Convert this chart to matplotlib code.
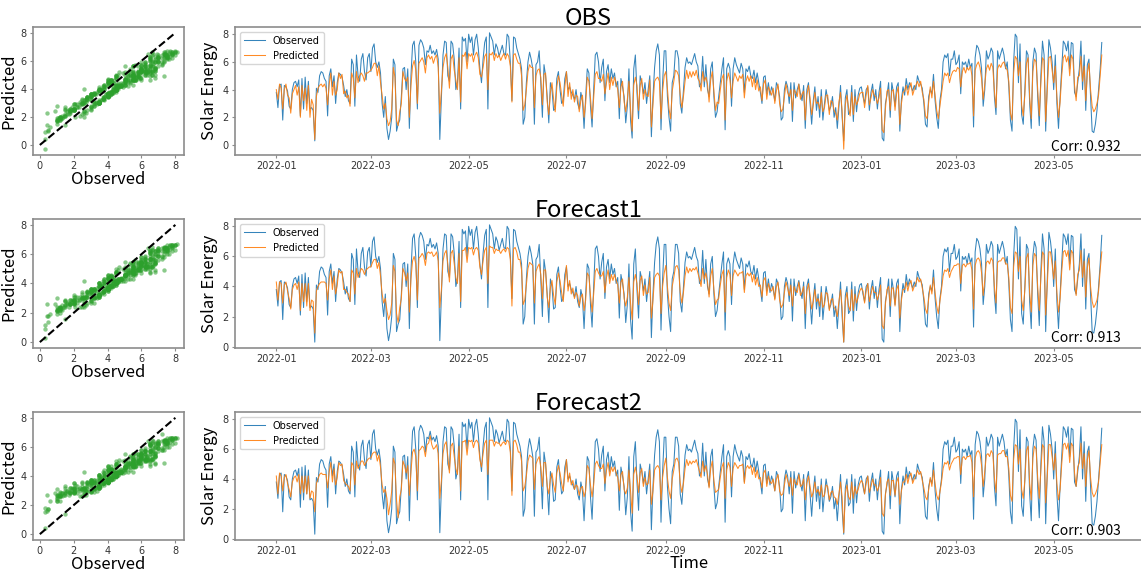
import numpy as np
import pandas as pd
import matplotlib
matplotlib.use('Agg')
import matplotlib.pyplot as plt
import matplotlib.dates as mdates

# daily solar energy, 2022-01-01 .. 2023-05-31 (one row = one month)
observed = [
    3.8, 2.7, 4.3, 4.4, 1.8, 4.3, 4.2, 3.9, 2.8, 2.6, 4.0, 4.5, 4.6, 4.2, 4.7, 2.1, 4.8, 2.6, 4.9, 3.0, 4.6, 2.6, 2.7, 2.5, 0.3, 4.1, 3.8, 5.0, 5.3, 5.2, 4.8,
    4.6, 2.1, 5.0, 5.5, 4.2, 5.0, 3.0, 4.5, 5.2, 5.1, 4.9, 4.3, 3.5, 4.0, 3.2, 3.0, 6.2, 5.8, 2.8, 6.5, 5.0, 4.6, 6.2, 6.6, 5.3, 4.7, 6.3, 6.6,
    5.3, 7.0, 7.3, 6.0, 5.6, 6.0, 5.2, 3.0, 2.0, 3.5, 1.2, 0.4, 1.0, 2.0, 6.2, 5.8, 1.0, 1.5, 1.8, 3.5, 5.5, 5.6, 4.0, 5.5, 1.2, 5.0, 7.2, 7.5, 6.0, 2.6, 7.2,
    7.6, 7.4, 7.0, 5.8, 6.8, 6.7, 7.2, 6.6, 6.8, 6.5, 6.9, 6.2, 0.4, 3.5, 6.5, 7.5, 7.4, 5.0, 4.6, 7.5, 7.3, 6.2, 4.0, 4.5, 7.0, 2.6, 7.8, 7.5, 7.7, 6.0,
    8.0, 7.4, 7.8, 6.5, 7.6, 8.0, 7.0, 5.5, 4.5, 6.2, 7.4, 7.8, 2.6, 8.1, 7.8, 7.5, 6.5, 7.3, 7.0, 6.4, 6.8, 7.2, 6.6, 6.5, 8.0, 7.8, 6.0, 3.2, 7.8, 7.7, 7.0,
    6.6, 6.2, 5.5, 1.5, 2.0, 4.5, 6.0, 6.7, 6.2, 5.5, 1.5, 5.8, 6.0, 6.8, 4.5, 2.0, 5.8, 5.0, 3.5, 1.6, 4.5, 4.0, 2.5, 2.6, 4.8, 5.3, 4.0, 3.0, 3.2, 4.8,
    5.3, 4.0, 4.2, 3.8, 3.6, 3.3, 4.0, 3.0, 2.6, 3.8, 3.2, 1.2, 3.5, 5.5, 5.2, 2.8, 1.3, 4.0, 6.5, 6.7, 6.0, 4.5, 5.6, 6.2, 3.2, 5.3, 5.8, 4.5, 5.5, 4.8, 5.2,
    4.2, 4.6, 1.9, 4.8, 4.2, 3.5, 1.6, 2.8, 5.5, 1.8, 0.5, 5.5, 6.5, 3.8, 1.9, 5.0, 4.5, 3.7, 4.5, 3.0, 4.0, 5.0, 0.6, 3.5, 5.6, 6.8, 7.3, 6.5, 1.1, 4.5, 6.8,
    6.8, 3.5, 2.0, 1.0, 4.5, 5.0, 6.8, 6.8, 6.2, 3.0, 2.3, 4.0, 5.6, 6.3, 5.9, 6.0, 5.8, 6.2, 6.6, 6.0, 5.7, 4.2, 4.5, 6.4, 4.2, 5.8, 4.0, 3.5, 5.5, 6.0,
    3.5, 2.0, 2.4, 3.5, 4.5, 5.5, 6.3, 1.1, 5.5, 5.9, 5.5, 2.8, 5.5, 6.3, 5.8, 5.5, 5.2, 5.9, 5.5, 3.8, 5.5, 5.3, 5.7, 5.0, 4.8, 5.4, 4.5, 5.2, 4.5, 3.8, 3.0,
    4.9, 5.0, 3.7, 4.5, 3.6, 4.2, 3.8, 3.2, 4.5, 4.2, 3.5, 1.8, 2.0, 4.0, 4.6, 4.2, 3.0, 4.5, 1.7, 4.5, 3.4, 4.0, 4.4, 3.7, 3.2, 4.3, 1.2, 4.0, 4.5, 3.0,
    1.5, 3.2, 4.2, 2.5, 3.5, 2.0, 4.0, 1.8, 3.0, 4.0, 3.3, 2.5, 2.8, 3.5, 2.0, 2.7, 1.2, 2.7, 4.3, 2.0, 0.3, 3.4, 4.0, 2.2, 2.4, 4.3, 1.7, 4.0, 2.4, 3.6, 4.1,
    4.2, 3.5, 3.0, 4.0, 4.2, 2.5, 3.8, 4.4, 3.2, 4.0, 2.6, 3.8, 4.6, 0.5, 0.3, 3.0, 3.6, 4.5, 2.0, 4.5, 3.8, 2.8, 4.2, 4.5, 1.0, 3.3, 4.2, 3.6, 4.8, 4.0, 4.5,
    4.2, 3.9, 4.3, 4.0, 5.0, 4.6, 4.4, 4.1, 3.0, 1.5, 1.3, 3.5, 4.0, 3.7, 5.1, 3.2, 2.0, 1.2, 3.2, 4.0, 6.0, 6.5, 6.3, 6.6, 5.0, 6.2, 6.2, 6.8,
    5.8, 6.0, 6.5, 3.7, 6.0, 5.8, 6.0, 5.5, 6.2, 5.6, 5.9, 1.3, 6.3, 7.2, 7.0, 6.5, 5.5, 2.8, 4.0, 6.8, 6.2, 6.5, 7.0, 6.7, 3.5, 2.2, 6.8, 6.2, 6.6, 7.0, 6.5,
    5.5, 6.0, 4.2, 1.8, 1.0, 6.0, 8.0, 7.8, 4.5, 7.3, 2.2, 1.5, 4.0, 6.8, 6.5, 3.0, 1.2, 6.0, 7.0, 6.6, 3.5, 1.4, 5.0, 7.5, 6.5, 1.0, 4.5, 7.6, 7.0, 6.0,
    4.0, 6.5, 3.0, 1.2, 3.5, 5.5, 7.5, 7.3, 6.8, 7.5, 5.5, 7.4, 7.3, 3.8, 3.5, 4.5, 5.5, 7.5, 4.0, 6.5, 2.5, 5.8, 6.2, 3.5, 1.0, 0.9, 1.5, 2.5, 4.0, 5.5, 7.4,
]

pred_obs = [
    4.0, 3.3, 4.4, 4.1, 2.6, 4.0, 4.4, 3.6, 3.4, 2.3, 3.7, 4.0, 4.3, 3.6, 4.2, 2.0, 4.3, 3.2, 4.1, 2.5, 4.3, 2.0, 3.3, 2.9, 0.4, 3.5, 4.1, 4.3, 4.4, 4.2, 4.4,
    4.1, 2.9, 4.4, 5.2, 3.6, 4.6, 3.6, 4.0, 5.2, 4.8, 5.1, 3.7, 3.9, 3.4, 3.6, 2.8, 5.2, 4.8, 3.4, 5.3, 4.5, 5.0, 5.2, 5.0, 4.6, 5.2, 5.2, 5.3,
    5.4, 5.6, 5.9, 5.9, 5.0, 5.7, 4.5, 3.6, 2.6, 3.0, 1.9, 1.4, 1.7, 2.6, 5.6, 4.9, 1.8, 1.4, 2.4, 3.0, 5.3, 4.8, 4.6, 4.9, 2.0, 4.3, 5.7, 6.1, 5.4, 3.0, 5.9,
    6.1, 6.3, 6.0, 5.2, 6.3, 6.5, 6.2, 6.4, 5.9, 6.3, 6.5, 5.6, 2.3, 3.9, 5.6, 6.3, 6.6, 5.6, 4.1, 6.2, 6.5, 5.4, 4.7, 4.0, 6.3, 3.1, 6.5, 6.4, 6.7, 5.5,
    6.6, 6.4, 6.6, 6.0, 6.5, 6.7, 6.3, 5.1, 4.9, 5.6, 6.4, 6.6, 4.0, 6.6, 6.5, 6.7, 6.1, 6.6, 6.3, 6.5, 6.1, 6.4, 6.6, 6.2, 6.6, 6.4, 5.7, 3.1, 6.5, 6.6, 6.2,
    5.9, 5.9, 5.0, 2.5, 2.9, 4.0, 5.3, 5.8, 5.6, 5.6, 2.7, 5.0, 5.4, 5.5, 4.9, 2.9, 5.1, 5.2, 3.1, 2.2, 3.8, 4.5, 3.3, 2.4, 4.2, 5.0, 4.5, 3.6, 2.8, 4.2,
    5.3, 3.5, 4.5, 3.3, 4.0, 3.1, 3.6, 3.5, 2.4, 3.2, 3.6, 2.0, 3.0, 4.9, 4.6, 3.4, 1.9, 3.4, 5.1, 5.3, 4.8, 4.8, 4.6, 5.1, 3.7, 4.5, 5.2, 4.0, 4.9, 4.3, 4.9,
    4.5, 4.0, 2.7, 4.2, 4.6, 3.1, 2.4, 3.3, 4.6, 2.6, 1.0, 4.3, 4.9, 4.3, 2.5, 4.3, 4.8, 3.3, 4.0, 3.6, 3.5, 4.7, 1.3, 3.0, 4.6, 4.8, 4.9, 4.6, 1.9, 3.9, 5.0,
    5.3, 4.1, 2.6, 1.9, 3.9, 4.6, 5.4, 5.3, 5.0, 3.6, 2.7, 3.5, 4.6, 5.4, 4.8, 5.3, 4.9, 5.3, 5.0, 5.4, 4.8, 4.6, 3.9, 5.3, 4.6, 4.9, 4.4, 3.1, 4.7, 5.3,
    3.9, 2.5, 3.1, 3.0, 4.0, 4.8, 5.1, 1.8, 4.6, 5.2, 4.7, 3.4, 4.6, 5.2, 4.9, 4.6, 5.0, 4.8, 5.1, 3.4, 4.6, 5.0, 4.6, 5.0, 4.2, 4.9, 4.0, 4.7, 3.9, 4.2, 3.2,
    4.4, 4.7, 3.3, 4.2, 3.9, 3.6, 4.1, 3.0, 3.9, 4.4, 3.0, 2.4, 2.6, 3.5, 4.4, 3.8, 3.5, 4.0, 2.5, 4.0, 3.8, 3.5, 4.4, 3.3, 3.7, 3.9, 1.8, 3.6, 4.3, 3.4,
    2.2, 2.9, 3.8, 3.0, 3.1, 2.6, 3.5, 2.4, 2.7, 3.6, 3.6, 2.2, 3.2, 3.1, 2.5, 2.3, 1.8, 3.1, 3.8, 2.5, -0.3, 2.9, 3.6, 2.7, 2.1, 3.8, 2.2, 3.5, 2.9, 3.2, 3.7,
    3.8, 3.8, 2.7, 3.6, 4.3, 2.9, 3.4, 4.0, 3.6, 3.5, 3.0, 3.4, 4.1, 1.1, 0.9, 2.6, 3.9, 4.0, 2.5, 3.9, 4.0, 2.5, 3.7, 4.2, 1.5, 3.0, 3.8, 3.9, 4.3, 3.6, 4.2,
    4.5, 3.6, 4.0, 4.3, 4.6, 4.2, 4.6, 3.8, 3.3, 2.1, 1.9, 3.1, 4.2, 3.4, 4.6, 3.6, 2.5, 1.9, 2.8, 3.7, 4.6, 5.2, 5.0, 5.2, 4.5, 5.0, 5.3, 5.4,
    5.3, 5.6, 5.5, 4.2, 5.3, 5.6, 5.2, 5.6, 5.4, 5.7, 5.0, 2.1, 5.4, 5.8, 6.0, 5.6, 4.8, 3.3, 4.4, 5.5, 5.8, 5.4, 5.9, 5.6, 3.9, 2.7, 5.5, 5.8, 5.6, 5.9, 6.0,
    5.6, 5.4, 4.6, 2.3, 1.8, 5.2, 6.4, 6.2, 5.0, 6.0, 2.9, 2.1, 3.6, 5.9, 6.3, 3.5, 1.9, 5.3, 6.2, 6.0, 4.0, 2.1, 4.5, 6.3, 6.1, 1.7, 4.0, 6.3, 6.4, 5.4,
    4.5, 5.7, 3.5, 2.0, 3.1, 5.0, 6.3, 6.5, 6.0, 6.4, 5.0, 6.5, 6.2, 4.3, 3.2, 4.9, 5.0, 6.4, 4.6, 5.7, 3.2, 5.2, 5.9, 4.0, 2.8, 2.4, 2.6, 3.0, 3.6, 5.0, 6.5,
]

pred_fc1 = [
    4.3, 3.1, 4.3, 4.2, 2.9, 4.1, 4.3, 3.7, 3.2, 2.5, 3.8, 4.1, 4.2, 3.8, 4.3, 2.4, 4.2, 3.0, 4.2, 2.7, 4.2, 2.4, 3.1, 3.0, 0.9, 3.7, 4.0, 4.2, 4.3, 4.3, 4.3,
    4.2, 3.1, 4.5, 5.1, 3.8, 4.7, 3.5, 4.1, 5.1, 4.9, 5.0, 3.8, 3.8, 3.6, 3.5, 3.0, 5.1, 4.9, 3.5, 5.2, 4.6, 4.9, 5.2, 5.1, 4.8, 5.1, 5.2, 5.3,
    5.3, 5.6, 5.8, 5.8, 5.2, 5.6, 4.7, 3.5, 2.9, 3.2, 2.4, 1.8, 2.1, 2.9, 5.4, 5.0, 2.2, 1.6, 2.6, 3.2, 5.2, 4.9, 4.4, 4.9, 2.3, 4.5, 5.7, 6.0, 5.5, 3.1, 5.9,
    6.0, 6.2, 6.0, 5.4, 6.2, 6.3, 6.2, 6.3, 6.0, 6.1, 6.3, 5.7, 2.6, 3.8, 5.7, 6.2, 6.4, 5.5, 4.3, 6.2, 6.4, 5.5, 4.6, 4.2, 6.2, 3.0, 6.4, 6.4, 6.6, 5.6,
    6.6, 6.5, 6.6, 6.1, 6.5, 6.6, 6.4, 5.3, 4.8, 5.7, 6.4, 6.6, 4.2, 6.7, 6.6, 6.6, 6.2, 6.5, 6.4, 6.4, 6.2, 6.4, 6.5, 6.3, 6.6, 6.5, 5.8, 2.7, 6.5, 6.6, 6.3,
    5.8, 5.8, 5.1, 2.8, 3.1, 4.1, 5.2, 5.6, 5.5, 5.4, 2.9, 5.0, 5.3, 5.5, 4.8, 3.2, 5.1, 5.1, 3.3, 2.6, 3.9, 4.4, 3.4, 2.8, 4.3, 4.9, 4.4, 3.6, 3.0, 4.3,
    5.4, 3.7, 4.4, 3.5, 3.9, 3.2, 3.6, 3.4, 2.7, 3.3, 3.5, 2.4, 3.1, 4.9, 4.7, 3.4, 2.3, 3.5, 5.0, 5.2, 4.9, 4.7, 4.7, 5.0, 3.6, 4.6, 5.1, 4.2, 4.8, 4.4, 4.8,
    4.4, 4.1, 2.9, 4.3, 4.5, 3.2, 2.7, 3.3, 4.6, 2.9, 1.8, 4.3, 4.8, 4.2, 2.8, 4.4, 4.7, 3.4, 4.1, 3.5, 3.6, 4.6, 1.9, 3.1, 4.6, 4.8, 4.9, 4.7, 2.2, 4.0, 4.9,
    5.4, 4.0, 2.9, 2.4, 4.0, 4.6, 5.3, 5.4, 5.1, 3.6, 2.9, 3.6, 4.7, 5.3, 4.9, 5.2, 5.0, 5.2, 5.1, 5.3, 4.9, 4.5, 4.0, 5.2, 4.5, 4.9, 4.3, 3.3, 4.7, 5.2,
    3.8, 2.8, 3.1, 3.2, 4.1, 4.8, 5.1, 2.3, 4.6, 5.1, 4.8, 3.4, 4.7, 5.1, 4.9, 4.7, 4.9, 4.9, 5.0, 3.6, 4.7, 4.9, 4.7, 4.9, 4.3, 4.8, 4.1, 4.6, 4.0, 4.1, 3.3,
    4.4, 4.6, 3.4, 4.2, 3.8, 3.7, 4.0, 3.1, 4.0, 4.3, 3.1, 2.6, 2.8, 3.6, 4.3, 3.9, 3.4, 4.1, 2.7, 4.0, 3.7, 3.6, 4.3, 3.4, 3.6, 4.0, 2.2, 3.7, 4.2, 3.4,
    2.5, 3.0, 3.8, 3.0, 3.2, 2.7, 3.6, 2.6, 2.8, 3.6, 3.5, 2.4, 3.1, 3.2, 2.6, 2.5, 2.0, 3.0, 3.8, 2.6, 0.3, 3.0, 3.6, 2.7, 2.4, 3.8, 2.4, 3.5, 2.9, 3.3, 3.7,
    3.9, 3.7, 2.9, 3.7, 4.2, 3.0, 3.5, 4.0, 3.6, 3.6, 3.1, 3.5, 4.1, 1.4, 1.2, 2.8, 3.8, 4.0, 2.7, 3.9, 3.9, 2.7, 3.8, 4.1, 1.9, 3.1, 3.8, 3.8, 4.3, 3.7, 4.2,
    4.4, 3.7, 4.0, 4.2, 4.6, 4.3, 4.5, 3.9, 3.3, 2.5, 2.2, 3.2, 4.1, 3.5, 4.6, 3.6, 2.7, 2.2, 3.0, 3.8, 4.7, 5.1, 5.0, 5.2, 4.6, 5.0, 5.2, 5.4,
    5.4, 5.5, 5.5, 4.2, 5.4, 5.5, 5.3, 5.5, 5.5, 5.6, 5.1, 2.5, 5.4, 5.8, 5.9, 5.7, 4.9, 3.4, 4.4, 5.6, 5.7, 5.5, 5.9, 5.7, 4.0, 2.9, 5.6, 5.7, 5.7, 5.9, 5.9,
    5.5, 5.5, 4.6, 2.6, 2.2, 5.3, 6.3, 6.2, 5.0, 6.0, 3.1, 2.4, 3.8, 5.9, 6.2, 3.6, 2.3, 5.4, 6.2, 6.0, 4.0, 2.4, 4.6, 6.3, 6.1, 2.1, 4.1, 6.3, 6.3, 5.5,
    4.5, 5.7, 3.6, 2.3, 3.2, 5.0, 6.3, 6.4, 6.0, 6.4, 5.1, 6.4, 6.2, 4.3, 3.4, 4.8, 5.1, 6.4, 4.6, 5.7, 3.3, 5.3, 5.9, 4.0, 3.0, 2.6, 2.8, 3.1, 3.7, 5.1, 6.3,
]

pred_fc2 = [
    4.2, 3.0, 4.4, 4.2, 3.2, 4.1, 4.3, 3.7, 3.3, 2.8, 3.8, 4.1, 4.2, 3.8, 4.3, 3.0, 4.2, 3.1, 4.2, 3.0, 4.2, 2.7, 3.2, 3.1, 1.8, 3.7, 4.0, 4.3, 4.4, 4.3, 4.3,
    4.3, 3.4, 4.5, 5.1, 3.8, 4.7, 3.6, 4.1, 5.1, 4.9, 5.0, 3.9, 3.7, 3.6, 3.5, 3.2, 5.1, 4.9, 3.6, 5.2, 4.7, 4.9, 5.2, 5.2, 4.9, 5.1, 5.3, 5.4,
    5.4, 5.7, 5.8, 5.8, 5.2, 5.6, 4.8, 3.6, 3.1, 3.3, 2.7, 1.6, 2.3, 3.2, 5.4, 5.0, 2.6, 1.4, 2.8, 3.3, 5.2, 4.9, 4.4, 4.9, 2.9, 4.5, 5.8, 6.0, 5.5, 3.2, 5.9,
    6.0, 6.2, 6.1, 5.5, 6.3, 6.4, 6.9, 6.3, 6.0, 6.1, 6.3, 5.7, 2.7, 3.9, 5.7, 6.3, 6.5, 5.5, 4.4, 6.2, 6.4, 5.5, 4.7, 4.3, 6.2, 3.2, 6.5, 6.5, 6.6, 5.6,
    6.6, 6.5, 6.6, 6.1, 6.5, 6.6, 6.4, 5.3, 4.8, 5.7, 6.4, 6.6, 4.3, 6.6, 6.6, 6.6, 6.2, 6.5, 6.4, 6.4, 6.2, 6.4, 6.5, 6.3, 6.6, 6.5, 5.8, 2.9, 6.5, 6.6, 6.3,
    5.8, 5.8, 5.2, 3.2, 3.5, 4.2, 5.2, 5.6, 5.5, 5.4, 3.3, 5.0, 5.3, 5.5, 4.8, 3.5, 5.1, 5.1, 3.5, 3.0, 4.0, 4.4, 3.6, 3.1, 4.4, 4.9, 4.4, 3.7, 3.2, 4.3,
    5.3, 3.8, 4.4, 3.6, 3.9, 3.3, 3.6, 3.5, 2.9, 3.4, 3.5, 2.8, 3.2, 4.9, 4.7, 3.6, 2.8, 3.6, 5.0, 5.2, 4.9, 4.7, 4.7, 5.0, 3.7, 4.6, 5.1, 4.2, 4.8, 4.5, 4.8,
    4.4, 4.1, 3.2, 4.3, 4.5, 3.3, 3.0, 3.4, 4.6, 3.2, 1.7, 4.3, 4.8, 4.2, 3.1, 4.4, 4.7, 3.5, 4.1, 3.6, 3.7, 4.6, 2.3, 3.2, 4.6, 4.8, 4.9, 4.7, 2.6, 4.1, 4.9,
    5.4, 4.1, 3.2, 2.7, 4.0, 4.6, 5.3, 5.4, 5.1, 3.7, 3.1, 3.7, 4.7, 5.3, 4.9, 5.2, 5.0, 5.2, 5.1, 5.3, 4.9, 4.5, 4.1, 5.2, 4.5, 4.9, 4.3, 3.4, 4.7, 5.2,
    3.9, 3.1, 3.2, 3.3, 4.1, 4.8, 5.1, 2.7, 4.6, 5.1, 4.8, 3.5, 4.7, 5.1, 4.9, 4.7, 4.9, 4.9, 5.0, 3.7, 4.7, 4.9, 4.7, 4.9, 4.3, 4.8, 4.1, 4.6, 4.0, 4.1, 3.4,
    4.4, 4.6, 3.5, 4.2, 3.8, 3.7, 4.0, 3.2, 4.0, 4.3, 3.2, 2.9, 3.0, 3.6, 4.3, 3.9, 3.5, 4.1, 2.9, 4.0, 3.7, 3.6, 4.3, 3.5, 3.6, 4.0, 2.6, 3.7, 4.2, 3.5,
    2.8, 3.1, 3.8, 3.1, 3.3, 2.9, 3.6, 2.8, 2.9, 3.6, 3.5, 2.6, 3.1, 3.2, 2.8, 2.7, 2.3, 3.0, 3.8, 2.8, 0.4, 3.0, 3.6, 2.8, 2.6, 3.8, 2.7, 3.5, 3.0, 3.3, 3.7,
    3.9, 3.7, 3.0, 3.7, 4.2, 3.1, 3.5, 4.0, 3.6, 3.6, 3.2, 3.5, 4.1, 1.7, 1.5, 2.9, 3.8, 4.0, 2.9, 3.9, 3.9, 2.9, 3.8, 4.1, 2.3, 3.2, 3.8, 3.8, 4.3, 3.7, 4.2,
    4.4, 3.7, 4.0, 4.2, 4.6, 4.3, 4.5, 3.9, 3.4, 2.8, 2.6, 3.3, 4.1, 3.5, 4.6, 3.7, 2.9, 2.6, 3.1, 3.8, 4.7, 5.1, 5.0, 5.2, 4.6, 5.0, 5.2, 5.4,
    5.4, 5.5, 5.5, 4.3, 5.4, 5.5, 5.3, 5.5, 5.5, 5.6, 5.1, 2.8, 5.4, 5.8, 5.9, 5.7, 4.9, 3.5, 4.5, 5.6, 5.7, 5.5, 5.9, 5.7, 4.1, 3.1, 5.6, 5.7, 5.7, 5.9, 5.9,
    5.5, 5.5, 4.7, 2.9, 2.5, 5.3, 6.3, 6.2, 5.0, 6.0, 3.3, 2.7, 3.9, 5.9, 6.2, 3.7, 2.6, 5.4, 6.2, 6.0, 4.1, 2.7, 4.6, 6.3, 6.1, 2.4, 4.2, 6.3, 6.3, 5.5,
    4.6, 5.7, 3.7, 2.6, 3.3, 5.0, 6.3, 6.4, 6.0, 6.4, 5.1, 6.4, 6.2, 4.4, 3.5, 4.8, 5.1, 6.4, 4.7, 5.7, 3.5, 5.3, 5.9, 4.1, 3.1, 2.8, 3.0, 3.3, 3.8, 5.1, 6.3,
]

titles = ['OBS', 'Forecast1', 'Forecast2']
corrs = ['0.932', '0.913', '0.903']
preds = [pred_obs, pred_fc1, pred_fc2]

dates = pd.date_range('2022-01-01', periods=len(observed), freq='D')
obs = np.array(observed)

label_font = ['Noto Sans CJK SC', 'DejaVu Sans']
spine_color = '#8c8c8c'

fig = plt.figure(figsize=(11.41, 5.73), dpi=100)

# [bottom, height] of each row, in figure fraction
rows = [(0.7295, 0.2234), (0.3927, 0.2251), (0.0576, 0.2234)]
corr_y = [0.03, 0.045, 0.04]

for i in range(3):
    b, h = rows[i]
    p = np.array(preds[i])

    ######## scatter: observed vs predicted
    ax1 = fig.add_axes([0.0289, b, 0.1323, h])
    ax1.scatter(obs, p, s=10, color='#2ca02c', alpha=0.55, linewidths=0)
    ax1.plot([0, 8], [0, 8], color='black', linestyle='--', linewidth=1.5)
    ax1.set_xticks([0, 2, 4, 6, 8])
    ax1.set_yticks([0, 2, 4, 6, 8])
    ax1.set_xlabel('Observed', fontsize=12, family=label_font, labelpad=0)
    ax1.set_ylabel('Predicted', fontsize=12, family=label_font, labelpad=2)

    ######## time series
    ax2 = fig.add_axes([0.206, b, 0.7958, h])
    ax2.plot(dates, obs, color='#1f77b4', linewidth=0.75, alpha=0.9, label='Observed')
    ax2.plot(dates, p, color='#ff7f0e', linewidth=0.75, alpha=0.9, label='Predicted')
    ax2.xaxis.set_major_locator(mdates.MonthLocator(bymonth=[1, 3, 5, 7, 9, 11]))
    ax2.xaxis.set_major_formatter(mdates.DateFormatter('%Y-%m'))
    ax2.set_yticks([0, 2, 4, 6, 8])
    ax2.set_ylabel('Solar Energy', fontsize=12, family=label_font, labelpad=3)
    leg = ax2.legend(loc='upper left', fontsize=7, frameon=True, handlelength=2.2)
    leg.get_frame().set_edgecolor('#cccccc')
    ax2.text(0.389, 1.015, titles[i], transform=ax2.transAxes, ha='center',
             va='baseline', fontsize=17, family=label_font)
    ax2.text(0.975, corr_y[i], 'Corr: ' + corrs[i], transform=ax2.transAxes,
             ha='right', va='baseline', fontsize=10, family=label_font)
    if i == 2:
        ax2.set_xlabel('Time', fontsize=12, family=label_font, labelpad=-1)

    for ax in (ax1, ax2):
        for s in ax.spines.values():
            s.set_color(spine_color)
            s.set_linewidth(1.2)
        ax.tick_params(labelsize=7, colors=spine_color, labelcolor='#333333',
                       length=2.5, width=0.8, pad=2)

plt.savefig('out.png', dpi=100)
